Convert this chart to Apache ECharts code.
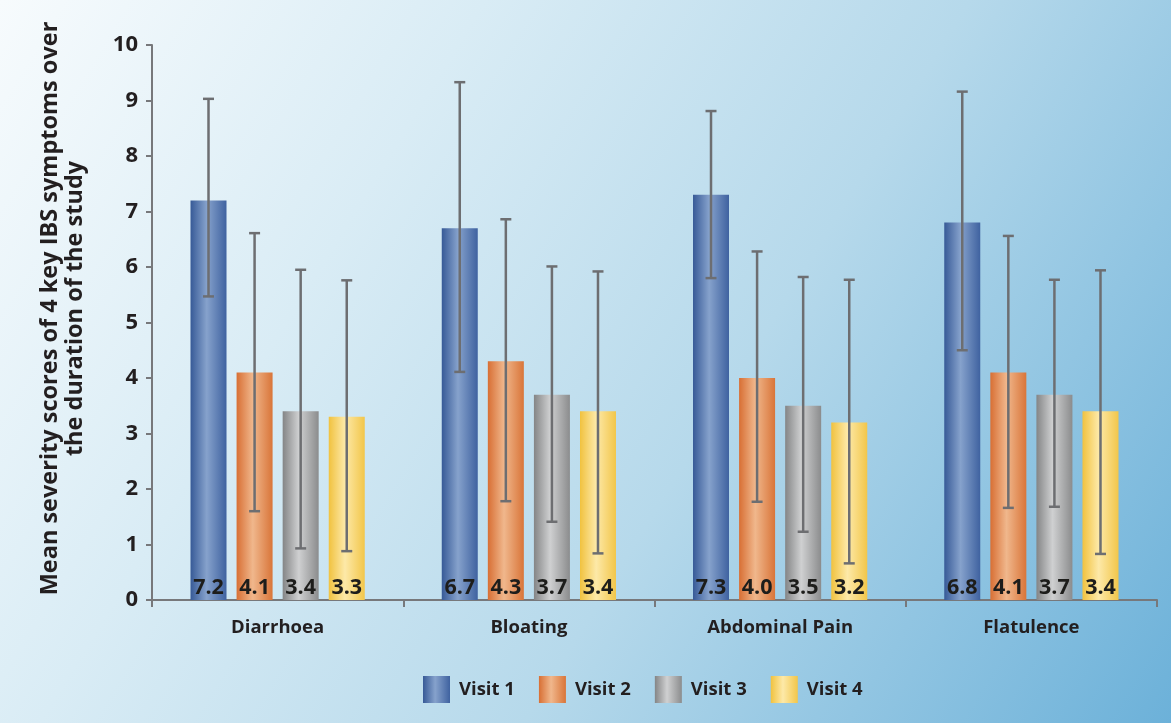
<!DOCTYPE html>
<html>
<head>
<meta charset="utf-8">
<script src="https://cdn.jsdelivr.net/npm/echarts@6/dist/echarts.min.js"></script>
<style>
  html, body { margin: 0; padding: 0; }
  #chart { width: 1171px; height: 723px; }
</style>
</head>
<body>
<div id="chart"></div>
<script>
// data
const categories = ["Diarrhoea", "Bloating", "Abdominal Pain", "Flatulence"];
const visitNames = ["Visit 1", "Visit 2", "Visit 3", "Visit 4"];

const visit1 = [7.2, 6.7, 7.3, 6.8];
const visit2 = [4.1, 4.3, 4.0, 4.1];
const visit3 = [3.4, 3.7, 3.5, 3.7];
const visit4 = [3.3, 3.4, 3.2, 3.4];

// error bar ends (lower / upper)
const visit1Low = [5.47, 4.11, 5.80, 4.50];
const visit1High = [9.03, 9.33, 8.81, 9.16];
const visit2Low = [1.60, 1.78, 1.77, 1.66];
const visit2High = [6.61, 6.86, 6.28, 6.56];
const visit3Low = [0.93, 1.41, 1.23, 1.68];
const visit3High = [5.95, 6.01, 5.82, 5.77];
const visit4Low = [0.88, 0.84, 0.66, 0.83];
const visit4High = [5.76, 5.92, 5.77, 5.94];

const FONT = '"Open Sans", "DejaVu Sans", sans-serif';
const TEXT = "#231f20";
const AXIS = "#77787b";
const BAR_W = 36;
const BAR_GAP = 0.28;

function shade(edge, light, edge2) {
  return new echarts.graphic.LinearGradient(0, 0, 1, 0, [
    { offset: 0, color: edge },
    { offset: 0.45, color: light },
    { offset: 1, color: edge2 }
  ]);
}

const fills = [
  shade("#375a97", "#86a2cc", "#3f62a0"),
  shade("#d86f34", "#f0b78c", "#d97539"),
  shade("#848586", "#cfd0d1", "#8b8c8d"),
  shade("#f1c23f", "#fde9a8", "#f2c64a")
];

const means = [visit1, visit2, visit3, visit4];
const lows = [visit1Low, visit2Low, visit3Low, visit4Low];
const highs = [visit1High, visit2High, visit3High, visit4High];

const barSeries = visitNames.map((name, k) => ({
  name: name,
  type: "bar",
  data: means[k],
  barWidth: BAR_W,
  barGap: (BAR_GAP * 100) + "%",
  itemStyle: { color: fills[k] },
  label: {
    show: true,
    position: "insideBottom",
    distance: 1,
    formatter: p => p.value.toFixed(1),
    fontFamily: FONT,
    fontSize: 21.5,
    fontWeight: "bold",
    color: "#1d1d1b"
  }
}));

const errSeries = visitNames.map((name, k) => ({
  name: name + " range",
  type: "custom",
  silent: true,
  z: 10,
  data: categories.map((c, i) => [i, lows[k][i], highs[k][i]]),
  encode: { x: 0, y: [1, 2] },
  renderItem: function (params, api) {
    const top = api.coord([api.value(0), api.value(2)]);
    const bot = api.coord([api.value(0), api.value(1)]);
    const x = top[0] + (k - 1.5) * BAR_W * (1 + BAR_GAP);
    const cap = 5.5;
    const style = { stroke: "#6d6e71", lineWidth: 2.5 };
    return {
      type: "group",
      children: [
        { type: "line", shape: { x1: x, y1: top[1], x2: x, y2: bot[1] }, style: style },
        { type: "line", shape: { x1: x - cap, y1: top[1], x2: x + cap, y2: top[1] }, style: style },
        { type: "line", shape: { x1: x - cap, y1: bot[1], x2: x + cap, y2: bot[1] }, style: style }
      ]
    };
  }
}));

const chart = echarts.init(document.getElementById("chart"));
chart.setOption({
  animation: false,
  backgroundColor: new echarts.graphic.LinearGradient(0, 0, 1, 1, [
    { offset: 0, color: "#f7fbfd" },
    { offset: 0.3, color: "#d9ecf5" },
    { offset: 0.6, color: "#b6d9eb" },
    { offset: 1, color: "#6cb1d9" }
  ]),
  textStyle: { fontFamily: FONT },
  grid: { left: 152, right: 14, top: 45, bottom: 123 },
  legend: {
    data: visitNames,
    top: 671,
    left: 418,
    icon: "rect",
    itemWidth: 27,
    itemHeight: 27,
    itemGap: 24,
    textStyle: {
      fontFamily: FONT,
      fontSize: 18.5,
      fontWeight: "bold",
      color: TEXT,
      padding: [0, 0, 0, 4]
    }
  },
  xAxis: {
    type: "category",
    data: categories,
    axisLine: { lineStyle: { color: AXIS, width: 2 } },
    axisTick: { show: true, length: 7, lineStyle: { color: AXIS, width: 2 } },
    axisLabel: {
      margin: 18,
      fontFamily: FONT,
      fontSize: 18.5,
      fontWeight: "bold",
      color: TEXT
    }
  },
  yAxis: {
    type: "value",
    min: 0,
    max: 10,
    interval: 1,
    name: "Mean severity scores of 4 key IBS symptoms over\nthe duration of the study",
    nameLocation: "middle",
    nameRotate: 90,
    nameGap: 64,
    nameTextStyle: {
      fontFamily: FONT,
      fontSize: 23.5,
      fontWeight: "bold",
      color: TEXT,
      lineHeight: 25,
      padding: [0, 0, 0, 28]
    },
    splitLine: { show: false },
    axisLine: { show: true, lineStyle: { color: AXIS, width: 2 } },
    axisTick: { show: true, length: 6, lineStyle: { color: AXIS, width: 2 } },
    axisLabel: {
      margin: 14,
      fontFamily: FONT,
      fontSize: 22,
      fontWeight: "bold",
      color: TEXT
    }
  },
  series: barSeries.concat(errSeries)
});
</script>
</body>
</html>
